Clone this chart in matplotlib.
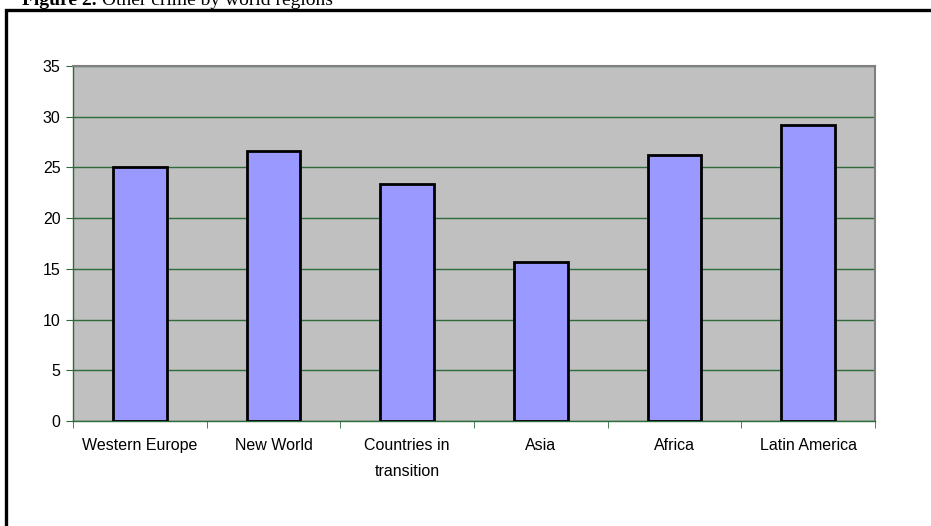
import matplotlib.pyplot as plt
from matplotlib.patches import Rectangle
import numpy as np

plt.rcParams['font.family'] = ['Liberation Sans', 'DejaVu Sans']

regions = ['Western Europe', 'New World', 'Countries in\ntransition', 'Asia', 'Africa', 'Latin America']
values = [25.0, 26.6, 23.4, 15.7, 26.2, 29.2]
yticks = [0, 5, 10, 15, 20, 25, 30, 35]

grid_green = '#2e6b3a'

fig = plt.figure(figsize=(9.31, 5.26), dpi=100)
fig.patch.set_facecolor('white')

# outer frame of the chart object
fig.patches.append(Rectangle((6 / 931, -0.1), 1.1, 1 - 10 / 526 + 0.1,
                             transform=fig.transFigure, fill=False,
                             edgecolor='black', linewidth=2.4))

# caption: bold label followed by plain text
cap1 = fig.text(22 / 931, 1 - 5 / 526, 'Figure 2.', fontsize=14, fontweight='bold',
                family='Liberation Serif', va='baseline', ha='left')
fig.canvas.draw()
bb = cap1.get_window_extent()
fig.text((bb.x1 + 5) / 931, 1 - 5 / 526, 'Other crime by world regions', fontsize=14,
         family='Liberation Serif', va='baseline', ha='left')

ax = fig.add_axes([73 / 931, 1 - 421 / 526, 802 / 931, 355 / 526])
ax.set_facecolor('#c0c0c0')

x = np.arange(len(regions))
ax.bar(x, values, width=0.40, color='#9999ff', edgecolor='black', linewidth=2, zorder=3)

ax.set_xlim(-0.5, len(regions) - 0.5)
ax.set_ylim(0, 35)
ax.set_yticks(yticks)
ax.yaxis.grid(True, color=grid_green, linewidth=1)
ax.set_axisbelow(True)

ax.set_xticks(x)
ax.set_xticklabels(regions, fontsize=11.5, linespacing=1.95, va='top')
ax.set_xticks(np.arange(len(regions) + 1) - 0.5, minor=True)
ax.tick_params(axis='x', which='major', length=0, pad=12)
ax.tick_params(axis='x', which='minor', length=5, color=grid_green, direction='out')
ax.tick_params(axis='y', length=5, color=grid_green, labelsize=11.5, pad=4)

for side in ['top', 'right']:
    ax.spines[side].set_color('#808080')
    ax.spines[side].set_linewidth(1.5)
for side in ['left', 'bottom']:
    ax.spines[side].set_color(grid_green)
    ax.spines[side].set_linewidth(1)

fig.savefig('out.png', dpi=100)
